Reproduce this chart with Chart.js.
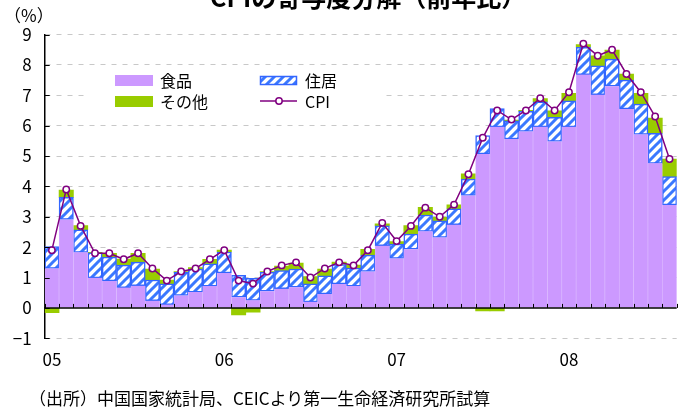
<!DOCTYPE html>
<html lang="ja">
<head>
<meta charset="utf-8">
<script src="https://cdn.jsdelivr.net/npm/chart.js@4"></script>
<style>
  body { margin: 0; background: #fff; }
  #wrap { position: relative; width: 686px; height: 410px; overflow: hidden;
          font-family: "Noto Sans CJK JP", sans-serif; color: #000; }
  #title { position: absolute; left: 210px; top: -16px; font-size: 25px; line-height: 25px;
           font-weight: bold; white-space: nowrap; }
  #unit { position: absolute; left: 4px; top: 6px; font-size: 17px; line-height: 17px; }
  #source { position: absolute; left: 29px; top: 389px; font-size: 17px; line-height: 17px;
            white-space: nowrap; }
  canvas { position: absolute; left: 0; top: 0; }
</style>
</head>
<body>
<div id="wrap">
  <canvas id="chart" width="686" height="410"></canvas>
  <div id="title">CPIの寄与度分解（前年比）</div>
  <div id="unit">（%）</div>
  <div id="source">（出所）中国国家統計局、CEICより第一生命経済研究所試算</div>
</div>
<script>
/* CPI contribution breakdown, y/y */

const months = [
  "2005-01","2005-02","2005-03","2005-04","2005-05","2005-06","2005-07","2005-08","2005-09","2005-10","2005-11","2005-12",
  "2006-01","2006-02","2006-03","2006-04","2006-05","2006-06","2006-07","2006-08","2006-09","2006-10","2006-11","2006-12",
  "2007-01","2007-02","2007-03","2007-04","2007-05","2007-06","2007-07","2007-08","2007-09","2007-10","2007-11","2007-12",
  "2008-01","2008-02","2008-03","2008-04","2008-05","2008-06","2008-07","2008-08",
];
const yearTickMonths = ["2005-01", "2006-01", "2007-01", "2008-01"];
const yearTickLabels = ["05", "06", "07", "08"];
const yTicks = [-1, 0, 1, 2, 3, 4, 5, 6, 7, 8, 9];

const food = [
  1.30, 2.91, 1.83, 0.99, 0.89, 0.67, 0.73, 0.24, 0.11, 0.41, 0.52, 0.72,
  1.15, 0.35, 0.25, 0.55, 0.63, 0.68, 0.20, 0.46, 0.79, 0.72, 1.20, 2.05,
  1.63, 1.93, 2.52, 2.32, 2.74, 3.70, 5.07, 5.96, 5.56, 5.81, 5.96, 5.48,
  5.96, 7.68, 7.02, 7.30, 6.55, 5.71, 4.76, 3.39,
];
const housing = [
  0.72, 0.73, 0.74, 0.82, 0.78, 0.74, 0.78, 0.68, 0.68, 0.76, 0.76, 0.73,
  0.69, 0.72, 0.72, 0.62, 0.60, 0.60, 0.59, 0.60, 0.64, 0.59, 0.54, 0.65,
  0.47, 0.50, 0.54, 0.55, 0.52, 0.54, 0.60, 0.60, 0.60, 0.66, 0.82, 0.79,
  0.86, 0.90, 0.95, 0.89, 0.95, 1.00, 0.99, 0.93,
];
const other = [
  -0.16, 0.24, 0.14, 0.02, 0.13, 0.20, 0.29, 0.36, 0.13, 0.03, 0.05, 0.15,
   0.06, -0.23, -0.14, 0.03, 0.15, 0.20, 0.24, 0.22, 0.08, 0.10, 0.19, 0.07,
   0.08, 0.28, 0.25, 0.11, 0.13, 0.17, -0.10, -0.10, 0.02, 0.03, 0.11, 0.22,
   0.24, 0.09, 0.33, 0.30, 0.20, 0.35, 0.50, 0.58,
];
const cpi = [
  1.9, 3.9, 2.7, 1.8, 1.8, 1.6, 1.8, 1.3, 0.9, 1.2, 1.3, 1.6,
  1.9, 0.9, 0.8, 1.2, 1.4, 1.5, 1.0, 1.3, 1.5, 1.4, 1.9, 2.8,
  2.2, 2.7, 3.3, 3.0, 3.4, 4.4, 5.6, 6.5, 6.2, 6.5, 6.9, 6.5,
  7.1, 8.7, 8.3, 8.5, 7.7, 7.1, 6.3, 4.9,
];

const FOOD = "#CC99FF", OTHER = "#99CC00", BLUE = "#3366FF", CPI_C = "#800080";
const FONT = '"Noto Sans CJK JP", sans-serif';

// ── hatch for 住居 ────────────────────────────────────────────────────────────
function makeHatch() {
  const c = document.createElement("canvas");
  c.width = 9; c.height = 9;
  const g = c.getContext("2d");
  g.fillStyle = "#fff";
  g.fillRect(0, 0, 9, 9);
  g.strokeStyle = "#3A78FF";
  g.lineWidth = 3;
  g.beginPath();
  g.moveTo(-1, 10); g.lineTo(10, -1);
  g.moveTo(-2, 2);  g.lineTo(2, -2);
  g.moveTo(7, 11);  g.lineTo(11, 7);
  g.stroke();
  return document.getElementById("chart").getContext("2d").createPattern(c, "repeat");
}
const hatch = makeHatch();

// ── zero line, inward ticks, legend ───────────────────────────────────────────
const overlay = {
  id: "overlay",
  afterDatasetsDraw(chart) {
    const { ctx, chartArea: a, scales: { x, y } } = chart;
    const y0 = y.getPixelForValue(0);
    ctx.save();
    ctx.strokeStyle = "#000";
    ctx.lineWidth = 1.5;
    ctx.beginPath();
    ctx.moveTo(a.left, y0); ctx.lineTo(a.right, y0);
    ctx.stroke();

    ctx.lineWidth = 1;
    ctx.beginPath();
    for (let i = 0; i <= months.length; i++) {
      const px = Math.round(x.getPixelForValue(i - 0.5)) + 0.5;
      ctx.moveTo(px, y0); ctx.lineTo(px, y0 - 4);
    }
    yTicks.forEach(v => {
      const py = Math.round(y.getPixelForValue(v)) + 0.5;
      ctx.moveTo(a.left, py); ctx.lineTo(a.left + 5, py);
    });
    ctx.stroke();
    ctx.restore();
  },
  afterDraw(chart) {
    const ctx = chart.ctx;
    ctx.save();
    ctx.fillStyle = "#fff";
    ctx.fillRect(84, 68, 298, 44);

    ctx.fillStyle = FOOD;  ctx.fillRect(115, 75, 38, 11);
    ctx.fillStyle = OTHER; ctx.fillRect(115, 96, 38, 11);

    ctx.fillStyle = hatch; ctx.fillRect(260, 76, 37, 9);
    ctx.strokeStyle = BLUE; ctx.lineWidth = 1.5;
    ctx.strokeRect(260.5, 76.5, 36, 8);

    ctx.strokeStyle = CPI_C; ctx.lineWidth = 1.5;
    ctx.beginPath(); ctx.moveTo(260, 101); ctx.lineTo(297, 101); ctx.stroke();
    ctx.fillStyle = "#fff";
    ctx.beginPath(); ctx.arc(279, 101, 3.2, 0, Math.PI * 2); ctx.fill(); ctx.stroke();

    ctx.fillStyle = "#000";
    ctx.font = `16px ${FONT}`;
    ctx.textBaseline = "middle";
    ctx.fillText("食品", 160, 81);
    ctx.fillText("その他", 160, 102);
    ctx.fillText("住居", 305, 81);
    ctx.fillText("CPI", 305, 102);
    ctx.restore();
  },
};

Chart.defaults.font.family = FONT;
Chart.defaults.color = "#000";

const barCommon = { barPercentage: 1, categoryPercentage: 1, stack: "s", order: 2 };

new Chart(document.getElementById("chart"), {
  type: "bar",
  data: {
    labels: months,
    datasets: [
      { ...barCommon, label: "食品", data: food, backgroundColor: FOOD,
        borderColor: "#DDBDFF", borderWidth: { left: 0.6, right: 0.6, top: 0, bottom: 0 } },
      { ...barCommon, label: "住居", data: housing, backgroundColor: hatch,
        borderColor: BLUE, borderWidth: 1.5, borderSkipped: false },
      { ...barCommon, label: "その他", data: other, backgroundColor: OTHER, borderWidth: 0 },
      { type: "line", label: "CPI", data: cpi, stack: "cpi", order: 1,
        borderColor: CPI_C, borderWidth: 1.5, tension: 0,
        pointRadius: 3.2, pointBackgroundColor: "#fff",
        pointBorderColor: CPI_C, pointBorderWidth: 1.5 },
    ],
  },
  options: {
    responsive: false,
    animation: false,
    layout: { padding: { left: 0, right: 9.3, top: 34.5, bottom: 0 } },
    plugins: { legend: { display: false }, tooltip: { enabled: false } },
    scales: {
      x: {
        stacked: true,
        grid: { display: false, drawTicks: false },
        border: { display: false },
        afterFit: s => { s.height = 71.7; },
        ticks: {
          autoSkip: false, maxRotation: 0, padding: 11,
          font: { size: 17 },
          callback: (v, i) => {
            const k = yearTickMonths.indexOf(months[i]);
            return k >= 0 ? yearTickLabels[k] : "";
          },
        },
      },
      y: {
        stacked: true,
        min: -1, max: 9,
        afterFit: s => { s.width = 44.7; },
        afterBuildTicks: s => { s.ticks = yTicks.map(v => ({ value: v })); },
        grid: {
          drawTicks: false,
          color: c => c.tick && c.tick.value === 0 ? "rgba(0,0,0,0)" : "#C8C8C8",
          lineWidth: 1,
        },
        border: { display: true, color: "#000", width: 1.5, dash: [5, 6] },
        ticks: {
          padding: 13,
          font: { size: 17 },
          callback: v => v < 0 ? "\u2212" + Math.abs(v) : String(v),
        },
      },
    },
  },
  plugins: [overlay],
});
</script>
</body>
</html>
